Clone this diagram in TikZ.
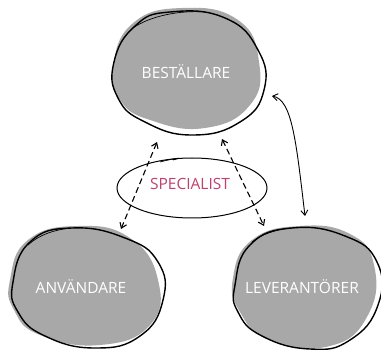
\documentclass[tikz,border=0pt]{standalone}
\usepackage{fontspec}
\setmainfont{Open Sans}
\usetikzlibrary{arrows.meta}
\definecolor{blobgrey}{HTML}{A8A8A8}
\definecolor{speccol}{HTML}{C0406E}
\tikzset{
  blobfill/.style={fill=blobgrey, draw=none},
  bloboutline/.style={draw=black, line width=1.4pt},
  blobtext/.style={text=white, font=\fontsize{15.5}{17}\selectfont, inner sep=0pt},
  dasharrow/.style={draw=black, line width=1.1pt, dash pattern=on 6pt off 3.5pt, {Straight Barb[length=5pt,width=7pt]}-{Straight Barb[length=5pt,width=7pt]}},
  solidarrow/.style={draw=black, line width=0.9pt, {Straight Barb[length=5pt,width=7pt]}-{Straight Barb[length=5pt,width=7pt]}},
}
\begin{document}
\begin{tikzpicture}[x=1pt,y=-1pt]
\useasboundingbox (0,0) rectangle (381,350);
% ---- top blob
\fill[blobfill] plot[smooth cycle, tension=0.8] coordinates {(113,68) (132,24) (182,8) (238,20) (259,62) (250,105) (205,128) (150,120) (120,100)};
\draw[bloboutline] plot[smooth cycle, tension=0.8] coordinates {(114,62) (135,26) (170,12) (225,18) (258,50) (264,90) (240,122) (192,135) (145,122) (118,98)};
\draw[black, line width=0.7pt] (133,28) .. controls (150,16) and (180,10) .. (205,12);
% ---- bottom left blob
\fill[blobfill] plot[smooth cycle, tension=0.8] coordinates {(10,280) (28,240) (78,226) (130,238) (158,280) (150,325) (100,345) (40,335) (14,310)};
\draw[bloboutline] plot[smooth cycle, tension=0.8] coordinates {(13,282) (30,242) (72,228) (125,238) (158,262) (163,300) (140,336) (95,348) (45,336) (18,312)};
\draw[black, line width=0.7pt] (28,245) .. controls (40,234) and (55,230) .. (70,228);
% ---- bottom right blob
\fill[blobfill] plot[smooth cycle, tension=0.8] coordinates {(233,278) (252,240) (300,226) (350,234) (374,265) (368,315) (330,346) (270,340) (240,312)};
\draw[bloboutline] plot[smooth cycle, tension=0.8] coordinates {(235,285) (250,245) (292,228) (345,236) (377,262) (378,305) (350,340) (310,349) (262,336) (238,312)};
\draw[black, line width=0.7pt] (252,242) .. controls (262,234) and (275,230) .. (290,228);
% ---- texts
\node[blobtext] (best) at (186,72) {BESTÄLLARE};
\node[blobtext] (anv) at (81,287) {ANVÄNDARE};
\node[blobtext] (lev) at (302,287) {LEVERANTÖRER};
% ---- specialist
\draw[black, line width=1pt] (192,188) ellipse [x radius=75pt, y radius=30pt];
\draw[black, line width=0.7pt] (160,162) .. controls (175,158) and (185,157) .. (173,160);
\node[text=speccol, font=\fontsize{15.5}{17}\selectfont, inner sep=0pt] (spec) at (190,184) {SPECIALIST};
% ---- arrows
\coordinate (a1) at (157,142);
\coordinate (a2) at (121,229);
\coordinate (b1) at (222,139);
\coordinate (b2) at (264,226);
\coordinate (c1) at (272,96);
\coordinate (c2) at (305,216);
\draw[dasharrow] (a1) -- (a2);
\draw[dasharrow] (b1) -- (b2);
\draw[solidarrow] (c1) .. controls (292,100) and (296,140) .. (c2);
\end{tikzpicture}
\end{document}
